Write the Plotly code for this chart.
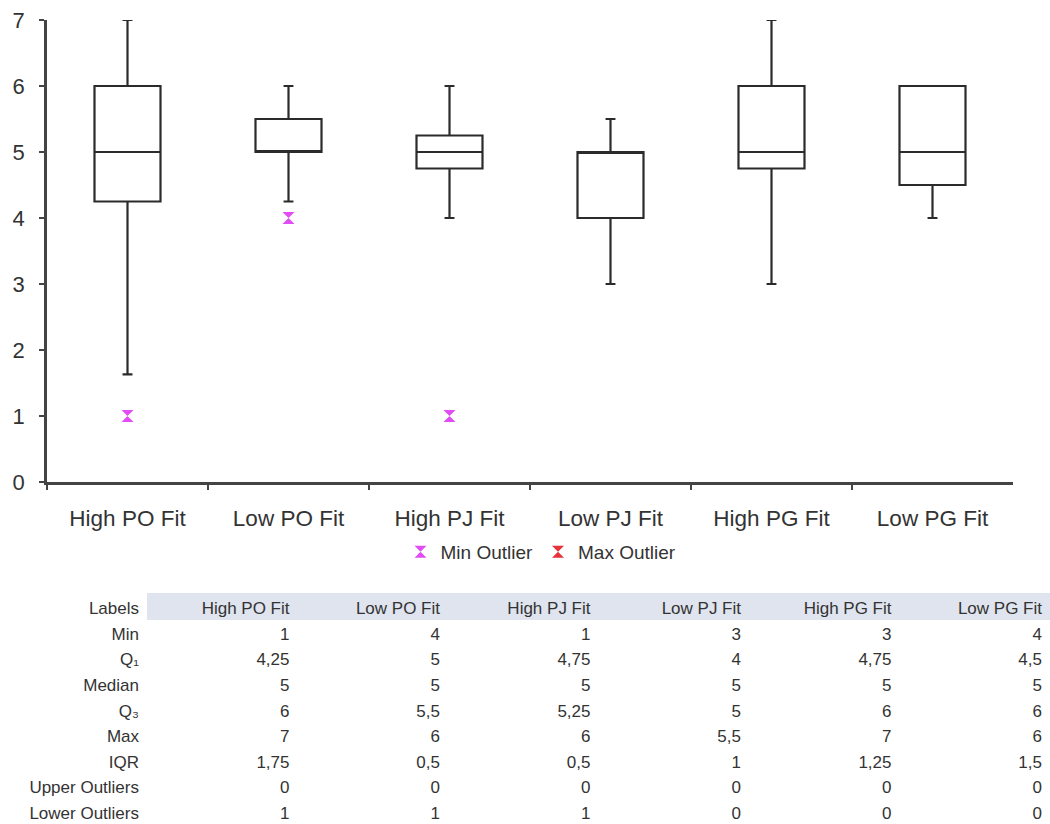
import plotly.graph_objects as go

categories = ["High PO Fit", "Low PO Fit", "High PJ Fit", "Low PJ Fit", "High PG Fit", "Low PG Fit"]
min_vals = [1, 4, 1, 3, 3, 4]
q1_vals = [4.25, 5, 4.75, 4, 4.75, 4.5]
median_vals = [5, 5, 5, 5, 5, 5]
q3_vals = [6, 5.5, 5.25, 5, 6, 6]
max_vals = [7, 6, 6, 5.5, 7, 6]
iqr_vals = [1.75, 0.5, 0.5, 1, 1.25, 1.5]
upper_outliers = [0, 0, 0, 0, 0, 0]
lower_outliers = [1, 1, 1, 0, 0, 0]
# whisker ends as drawn in the chart
whisker_low = [1.63, 4.25, 4, 3, 3, 4]
whisker_high = [7, 6, 6, 5.5, 7, 6]
# outlier points
min_outlier_x = ["High PO Fit", "Low PO Fit", "High PJ Fit"]
min_outlier_y = [1, 4, 1]
max_outlier_x = [None]
max_outlier_y = [None]

row_labels = ["Min", "Q₁", "Median", "Q₃", "Max", "IQR", "Upper Outliers", "Lower Outliers"]


def fmt(v):
    s = ("%g" % v)
    return s.replace(".", ",")


rows = [min_vals, q1_vals, median_vals, q3_vals, max_vals, iqr_vals, upper_outliers, lower_outliers]
columns = [row_labels] + [[fmt(r[i]) for r in rows] for i in range(len(categories))]

W, H = 1050, 824
axis_col = "#444444"
font_fam = "Liberation Sans, Arial, sans-serif"
head_fill = ["white"] + ["#dfe4ee"] * 6

fig = go.Figure()

fig.add_trace(go.Box(
    x=categories, q1=q1_vals, median=median_vals, q3=q3_vals,
    lowerfence=whisker_low, upperfence=whisker_high,
    boxpoints=False, width=0.41, whiskerwidth=0.15,
    line=dict(color="#2b2b2b", width=2.2), fillcolor="white",
    showlegend=False, hoverinfo="skip",
))

fig.add_trace(go.Scatter(
    x=min_outlier_x, y=min_outlier_y, mode="markers", name="Min Outlier",
    marker=dict(symbol="hourglass", size=12, color="#e24cf5"),
))
fig.add_trace(go.Scatter(
    x=max_outlier_x, y=max_outlier_y, mode="markers", name="Max Outlier",
    marker=dict(symbol="hourglass", size=12, color="#e8323c"),
))

fig.add_trace(go.Table(
    domain=dict(x=[0, 1], y=[0, 1 - 593 / H]),
    columnwidth=[147] + [150.5] * 6,
    header=dict(
        values=["Labels"] + categories,
        fill_color=head_fill,
        line=dict(color=head_fill, width=1),
        align="right", height=26,
        font=dict(family=font_fam, size=17, color="#333333"),
    ),
    cells=dict(
        values=columns,
        fill_color="white",
        line=dict(color="white", width=0),
        align="right", height=25.6,
        font=dict(family=font_fam, size=17, color="#333333"),
    ),
))

fig.update_layout(
    width=W, height=H,
    margin=dict(l=0, r=0, t=0, b=0),
    paper_bgcolor="white", plot_bgcolor="white",
    font=dict(family=font_fam, color="#333333"),
    showlegend=True,
    legend=dict(
        orientation="h", x=541 / W, xanchor="center", y=1 - 552 / H, yanchor="middle",
        font=dict(size=19, color="#333333"), itemwidth=30, bgcolor="rgba(0,0,0,0)",
    ),
    xaxis=dict(
        domain=[47 / W, 1013 / W], range=[-0.5, 5.5], type="category",
        showline=True, linecolor=axis_col, linewidth=2.5,
        ticks="outside", tickson="boundaries", ticklen=5, tickwidth=2, tickcolor=axis_col,
        showgrid=False, zeroline=False, automargin=False,
        tickfont=dict(size=22.5, color="#333333"), ticklabelstandoff=14,
    ),
    yaxis=dict(
        domain=[1 - 482 / H, 1 - 20 / H], range=[0, 7], dtick=1,
        showline=True, linecolor=axis_col, linewidth=2.5,
        ticks="outside", ticklen=5, tickwidth=2, tickcolor=axis_col,
        showgrid=False, zeroline=False, automargin=False,
        tickfont=dict(size=22, color="#333333"), ticklabelstandoff=10,
    ),
)

fig.write_html(
    "out.html",
    config={"displayModeBar": False},
    post_script="document.body.style.margin='0';document.body.style.overflow='hidden';",
)
